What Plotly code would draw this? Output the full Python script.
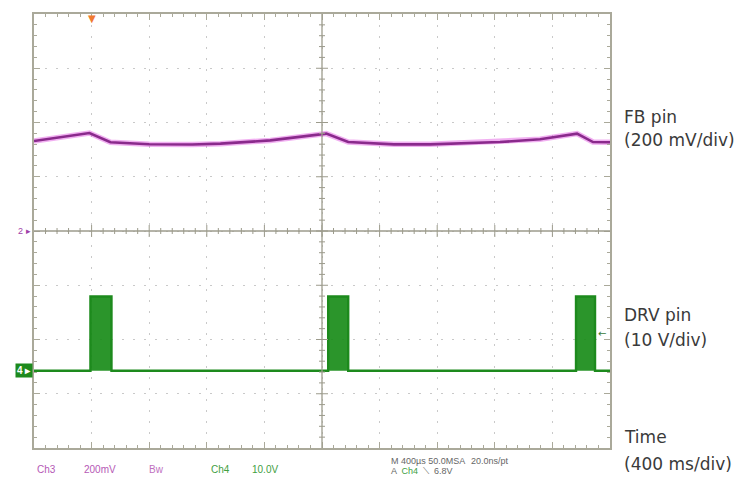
import plotly.graph_objects as go

# ---------------- data ----------------
# FB pin (Ch3) trace: time (ms) vs voltage (mV), 200 mV/div, ground at centre
fb_time_ms = [0, 385, 531, 800, 1100, 1295, 1641, 1850, 2030, 2182,
              2500, 2750, 2890, 3236, 3514, 3771, 3882, 4000]
fb_mv = [332, 361, 327, 320, 319, 322, 334, 346, 359, 328,
         319.5, 319.5, 322, 328, 338, 359, 328, 327]

# DRV pin (Ch4) switching bursts: start / end time (ms) and peak level (V)
burst_start_ms = [392, 2043, 3764]
burst_end_ms = [538, 2182, 3896]
burst_level_v = [13.7, 13.7, 13.7]

trigger_time_ms = 400
trigger_level_v = 6.8

right_labels = [("FB pin", 117), ("(200 mV/div)", 140),
                ("DRV pin", 315), ("(10 V/div)", 340),
                ("Time", 437), ("(400 ms/div)", 464)]

# ---------------- layout geometry ----------------
W, H = 736, 477
ML, MR, MT, MB = 34, 126, 14, 29
PW, PH = W - ML - MR, H - MT - MB

def xp(px):
    return (px - ML) / PW

def yp(py):
    return (H - MB - py) / PH

X_RANGE = [0, 4000]
FB_RANGE = [-800, 800]
DRV_RANGE = [-14.23, 65.77]

FRAME = "#aaa99a"
CENTER = "#9c9b8c"
GRID = "#c9c9c9"
PURPLE = "#8a2a8c"
GREEN = "#1d8a1d"

fig = go.Figure()

# FB trace (glow + core)
fig.add_trace(go.Scatter(x=fb_time_ms, y=fb_mv, mode="lines",
                         line=dict(color="rgba(225,80,225,0.45)", width=5.5),
                         hoverinfo="skip", showlegend=False))
fig.add_trace(go.Scatter(x=fb_time_ms, y=fb_mv, mode="lines",
                         line=dict(color=PURPLE, width=2.6),
                         name="FB pin", showlegend=False))

# DRV trace built from the burst lists
drv_x, drv_y = [X_RANGE[0]], [0]
for s, e, lvl in zip(burst_start_ms, burst_end_ms, burst_level_v):
    drv_x += [s, s, e, e]
    drv_y += [0, lvl, lvl, 0]
drv_x.append(X_RANGE[1])
drv_y.append(0)
fig.add_trace(go.Scatter(x=drv_x, y=drv_y, mode="lines", yaxis="y2",
                         fill="tozeroy", fillcolor="rgba(25,140,25,0.92)",
                         line=dict(color=GREEN, width=2.4, shape="linear"),
                         name="DRV pin", showlegend=False))

# ---------------- centre cross-hair with ticks ----------------
shapes = []
xc = (X_RANGE[0] + X_RANGE[1]) / 2
yc = (FB_RANGE[0] + FB_RANGE[1]) / 2
shapes.append(dict(type="line", xref="x", yref="paper", x0=xc, x1=xc, y0=0, y1=1,
                   line=dict(color=CENTER, width=1.3)))
shapes.append(dict(type="line", xref="paper", yref="y", x0=0, x1=1, y0=yc, y1=yc,
                   line=dict(color=CENTER, width=1.3)))
x_per_px = (X_RANGE[1] - X_RANGE[0]) / PW
y_per_px = (FB_RANGE[1] - FB_RANGE[0]) / PH
xdiv = (X_RANGE[1] - X_RANGE[0]) / 10
ydiv = (FB_RANGE[1] - FB_RANGE[0]) / 8
for i in range(1, 50):
    t = X_RANGE[0] + i * xdiv / 5
    half = 6 if i % 5 == 0 else 3
    shapes.append(dict(type="line", xref="x", yref="y", x0=t, x1=t,
                       y0=yc - half * y_per_px, y1=yc + half * y_per_px,
                       line=dict(color=CENTER, width=1)))
for i in range(1, 40):
    v = FB_RANGE[0] + i * ydiv / 5
    half = 6 if i % 5 == 0 else 3
    shapes.append(dict(type="line", xref="x", yref="y", y0=v, y1=v,
                       x0=xc - half * x_per_px, x1=xc + half * x_per_px,
                       line=dict(color=CENTER, width=1)))

# ---------------- annotations ----------------
ann = []
FONT = "DejaVu Sans"
for text, py in right_labels:
    ann.append(dict(text=text, xref="paper", yref="paper", x=xp(622), y=yp(py),
                    xanchor="left", yanchor="middle", showarrow=False,
                    font=dict(family=FONT, size=17, color="#3a3a3a")))

small = "Liberation Sans"
bottom = [("Ch3", 35, "#b558b5"), ("200mV", 82, "#b558b5"), ("Bw", 147, "#c070c0"),
          ("Ch4", 209, "#3fa03f"), ("10.0V", 250, "#3fa03f")]
for text, px, col in bottom:
    ann.append(dict(text=text, xref="paper", yref="paper", x=xp(px), y=yp(470),
                    xanchor="left", yanchor="middle", showarrow=False,
                    font=dict(family=small, size=10, color=col)))
ann.append(dict(text="M 400µs 50.0MSA", xref="paper", yref="paper", x=xp(389), y=yp(461),
                xanchor="left", yanchor="middle", showarrow=False,
                font=dict(family=small, size=9, color="#666")))
ann.append(dict(text="20.0ns/pt", xref="paper", yref="paper", x=xp(469), y=yp(461),
                xanchor="left", yanchor="middle", showarrow=False,
                font=dict(family=small, size=9, color="#666")))
ann.append(dict(text="A  <span style='color:#3fa03f'>Ch4</span>  ⟍  6.8V",
                xref="paper", yref="paper", x=xp(389), y=yp(471),
                xanchor="left", yanchor="middle", showarrow=False,
                font=dict(family=small, size=9, color="#666")))

# markers: trigger position, channel ground markers, trigger level
ann.append(dict(text="▼", xref="x", yref="paper", x=trigger_time_ms, y=1.0,
                xanchor="center", yanchor="top", showarrow=False, yshift=3,
                font=dict(family=FONT, size=10, color="#f07a30")))
ann.append(dict(text="2 ▸", xref="paper", yref="y", x=xp(33), y=0,
                xanchor="right", yanchor="middle", showarrow=False,
                font=dict(family=small, size=9, color="#a040a8")))
ann.append(dict(text="<b>4 ▸</b>", xref="paper", yref="y2", x=xp(33), y=0,
                xanchor="right", yanchor="middle", showarrow=False,
                bgcolor="#1d8a1d", borderpad=1,
                font=dict(family=small, size=10, color="white")))
ann.append(dict(text="←", xref="paper", yref="y2", x=0.997, y=trigger_level_v,
                xanchor="right", yanchor="middle", showarrow=False,
                font=dict(family=FONT, size=10, color="#3a7a3a")))

axis_common = dict(showline=True, linecolor=FRAME, linewidth=1.5, mirror="ticks",
                   ticks="inside", ticklen=6, tickcolor=FRAME, tickwidth=1,
                   showticklabels=False, zeroline=False, showgrid=True,
                   gridcolor=GRID, gridwidth=1, griddash="2px,9px")

fig.update_layout(
    width=W, height=H,
    margin=dict(l=ML, r=MR, t=MT, b=MB),
    paper_bgcolor="white", plot_bgcolor="white",
    showlegend=False,
    xaxis=dict(range=X_RANGE, dtick=xdiv, tick0=0,
               minor=dict(ticks="inside", ticklen=3, dtick=xdiv / 5,
                          tickcolor=FRAME, showgrid=False),
               **axis_common),
    yaxis=dict(range=FB_RANGE, dtick=ydiv, tick0=0,
               minor=dict(ticks="inside", ticklen=3, dtick=ydiv / 5,
                          tickcolor=FRAME, showgrid=False),
               **axis_common),
    yaxis2=dict(range=DRV_RANGE, overlaying="y", visible=False),
    shapes=shapes,
    annotations=ann,
)

fig.write_html("out.html")
